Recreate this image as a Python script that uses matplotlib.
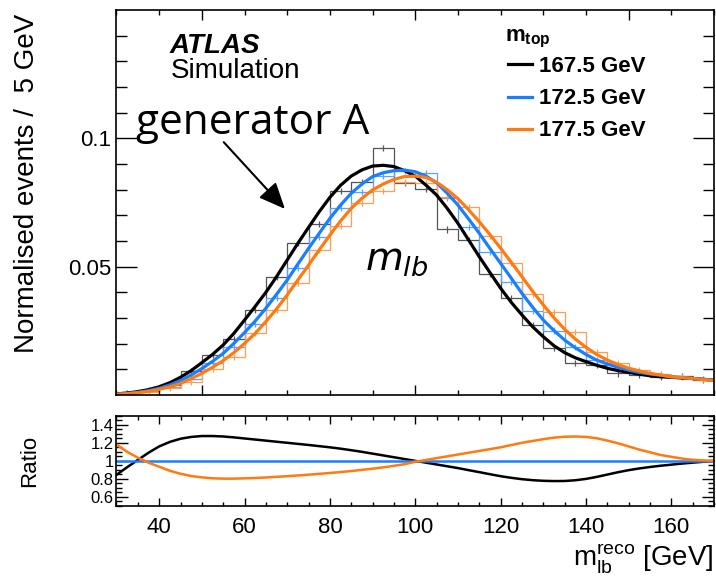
import numpy as np
import matplotlib
matplotlib.use('Agg')
import matplotlib.pyplot as plt
from matplotlib.ticker import MultipleLocator, FixedLocator

plt.rcParams['font.family'] = ['Liberation Sans', 'DejaVu Sans']
plt.rcParams['mathtext.fontset'] = 'custom'
plt.rcParams['mathtext.rm'] = 'Liberation Sans'
plt.rcParams['mathtext.bf'] = 'Liberation Sans:bold'
plt.rcParams['mathtext.it'] = 'DejaVu Sans:italic'

# bins of 5 GeV
edges = np.arange(30, 175, 5)
centers = edges[:-1] + 2.5

# histograms (normalised events / 5 GeV)
hist_167 = [0.0006, 0.0018, 0.0040, 0.0094, 0.0156, 0.0218, 0.0331, 0.0460, 0.0591, 0.0666,
            0.0796, 0.0829, 0.0962, 0.0826, 0.0801, 0.0645, 0.0604, 0.0470, 0.0379, 0.0273,
            0.0182, 0.0126, 0.0117, 0.0084, 0.0078, 0.0069, 0.0075, 0.0060]
hist_172 = [0.0005, 0.0015, 0.0032, 0.0064, 0.0123, 0.0186, 0.0277, 0.0377, 0.0494, 0.0614,
            0.0727, 0.0790, 0.0855, 0.0872, 0.0864, 0.0766, 0.0653, 0.0558, 0.0442, 0.0329,
            0.0251, 0.0186, 0.0136, 0.0106, 0.0091, 0.0078, 0.0069, 0.0061]
hist_177 = [0.0004, 0.0012, 0.0026, 0.0052, 0.0100, 0.0149, 0.0240, 0.0331, 0.0435, 0.0565,
            0.0658, 0.0747, 0.0796, 0.0831, 0.0827, 0.0770, 0.0734, 0.0621, 0.0513, 0.0394,
            0.0325, 0.0247, 0.0169, 0.0123, 0.0097, 0.0082, 0.0071, 0.0061]
HIST_ERR = 0.0012

# fitted templates, read every 2.5 GeV
fit_x = np.arange(30, 172.5, 2.5)
fit_167 = [0.0004, 0.0008, 0.0013, 0.0021, 0.0032, 0.0048, 0.0069, 0.0095, 0.0126, 0.0158,
           0.0195, 0.0240, 0.0292, 0.0345, 0.0400, 0.0461, 0.0526, 0.0591, 0.0653, 0.0714,
           0.0770, 0.0817, 0.0853, 0.0877, 0.0892, 0.0895, 0.0890, 0.0874, 0.0853, 0.0818,
           0.0779, 0.0727, 0.0669, 0.0604, 0.0539, 0.0477, 0.0416, 0.0361, 0.0312, 0.0266,
           0.0227, 0.0192, 0.0165, 0.0145, 0.0130, 0.0116, 0.0104, 0.0095, 0.0088, 0.0081,
           0.0075, 0.0071, 0.0069, 0.0066, 0.0064, 0.0061, 0.0058]
fit_172 = [0.0003, 0.0006, 0.0010, 0.0017, 0.0026, 0.0039, 0.0056, 0.0078, 0.0103, 0.0131,
           0.0162, 0.0201, 0.0243, 0.0288, 0.0338, 0.0392, 0.0448, 0.0510, 0.0571, 0.0630,
           0.0688, 0.0740, 0.0786, 0.0822, 0.0851, 0.0866, 0.0874, 0.0876, 0.0870, 0.0853,
           0.0827, 0.0786, 0.0740, 0.0686, 0.0630, 0.0571, 0.0513, 0.0455, 0.0396, 0.0342,
           0.0292, 0.0251, 0.0214, 0.0184, 0.0158, 0.0136, 0.0121, 0.0108, 0.0097, 0.0088,
           0.0082, 0.0077, 0.0071, 0.0068, 0.0064, 0.0061, 0.0058]
fit_177 = [0.0003, 0.0005, 0.0009, 0.0014, 0.0022, 0.0032, 0.0045, 0.0064, 0.0084, 0.0108,
           0.0134, 0.0165, 0.0201, 0.0240, 0.0286, 0.0335, 0.0390, 0.0448, 0.0506, 0.0565,
           0.0623, 0.0678, 0.0727, 0.0766, 0.0799, 0.0822, 0.0840, 0.0851, 0.0853, 0.0848,
           0.0829, 0.0800, 0.0765, 0.0722, 0.0675, 0.0625, 0.0572, 0.0517, 0.0461, 0.0404,
           0.0351, 0.0301, 0.0256, 0.0218, 0.0186, 0.0158, 0.0136, 0.0119, 0.0104, 0.0094,
           0.0084, 0.0078, 0.0071, 0.0068, 0.0064, 0.0060, 0.0056]

# ratio to the 172.5 GeV template, read every 2.5 GeV
ratio_167 = [0.845, 0.93, 1.01, 1.09, 1.16, 1.21, 1.245, 1.265, 1.275, 1.275,
             1.27, 1.26, 1.248, 1.236, 1.224, 1.212, 1.20, 1.188, 1.176, 1.163,
             1.15, 1.135, 1.118, 1.10, 1.08, 1.06, 1.04, 1.02, 1.0, 0.98,
             0.96, 0.94, 0.92, 0.897, 0.875, 0.852, 0.83, 0.812, 0.797, 0.786,
             0.779, 0.776, 0.777, 0.785, 0.800, 0.822, 0.848, 0.874, 0.897, 0.916,
             0.932, 0.946, 0.958, 0.970, 0.980, 0.990, 1.0]
ratio_172 = [1.0] * 57
ratio_177 = [1.18, 1.10, 1.035, 0.98, 0.935, 0.89, 0.857, 0.832, 0.817, 0.807,
             0.803, 0.803, 0.806, 0.81, 0.816, 0.823, 0.83, 0.838, 0.847, 0.856,
             0.866, 0.876, 0.887, 0.90, 0.913, 0.928, 0.945, 0.963, 0.99, 1.01,
             1.03, 1.05, 1.07, 1.09, 1.11, 1.13, 1.15, 1.175, 1.20, 1.22,
             1.24, 1.257, 1.267, 1.27, 1.265, 1.25, 1.225, 1.195, 1.16, 1.125,
             1.095, 1.065, 1.045, 1.025, 1.012, 1.005, 1.0]

labels = ['167.5 GeV', '172.5 GeV', '177.5 GeV']
colors = ['black', '#1a7fff', '#ff7a10']
hist_colors = ['#555555', '#5aa2ff', '#ff9d55']

fig = plt.figure(figsize=(7.16, 5.79), dpi=100)
ax = fig.add_axes([0.1627, 0.3178, 0.8345, 0.6649])
ax2 = fig.add_axes([0.1627, 0.1261, 0.8345, 0.1559])

for h, c in zip([hist_167, hist_172, hist_177], hist_colors):
    ax.stairs(h, edges, color=c, lw=0.9)
    ax.errorbar(centers, h, yerr=HIST_ERR, fmt='none', ecolor=c, elinewidth=0.9)

lines = []
for f, c, lab in zip([fit_167, fit_172, fit_177], colors, labels):
    l, = ax.plot(fit_x, f, color=c, lw=2.3, label=lab)
    lines.append(l)

ax.set_xlim(30, 170)
ax.set_ylim(0, 0.15)
ax.set_yticks([0.05, 0.1])
ax.set_yticklabels(['0.05', '0.1'])
ax.yaxis.set_minor_locator(FixedLocator(np.arange(0.01, 0.15, 0.01)))
ax.xaxis.set_major_locator(MultipleLocator(50))
ax.xaxis.set_minor_locator(MultipleLocator(10))
ax.tick_params(axis='both', which='both', direction='in', top=True, right=True,
               width=1.0, labelsize=16)
ax.tick_params(axis='y', which='major', length=15, pad=4)
ax.tick_params(axis='y', which='minor', length=8)
ax.tick_params(axis='x', which='major', length=7, labelbottom=False)
ax.tick_params(axis='x', which='minor', length=3.5)
ax.set_ylabel('Normalised events /  5 GeV', fontsize=20)
ax.yaxis.set_label_coords(-0.128, 0.55)

ax.text(0.089, 0.888, 'ATLAS', transform=ax.transAxes, fontsize=20,
        fontweight='bold', fontstyle='italic')
ax.text(0.091, 0.823, 'Simulation', transform=ax.transAxes, fontsize=20)

ax.text(34.6, 0.1015, 'generator A', family=['Open Sans', 'DejaVu Sans'], fontsize=30.5)
ax.annotate('', xy=(69.9, 0.0717), xytext=(54.7, 0.0993),
            arrowprops=dict(arrowstyle='-|>,head_length=0.8,head_width=0.35',
                            mutation_scale=20, lw=1.5, color='black'))
ax.text(88.2, 0.0487, r'$\mathit{m}_{\mathit{lb}}$', fontsize=28)

# legend title and entries
ax.text(0.650, 0.919, r'$\mathbf{m_{top}}$', transform=ax.transAxes, fontsize=16,
        va='baseline')
leg = ax.legend(handles=lines, labels=labels,
                loc='upper left', bbox_to_anchor=(0.64, 0.903), frameon=False,
                prop={'size': 16, 'weight': 'bold'},
                handlelength=1.1, handletextpad=0.3, labelspacing=0.5,
                borderaxespad=0.0)
for lh in leg.legend_handles:
    lh.set_linewidth(2.3)

for r, c in zip([ratio_167, ratio_172, ratio_177], colors):
    ax2.plot(fit_x, r, color=c, lw=1.8)

ax2.set_xlim(30, 170)
ax2.set_ylim(0.5, 1.5)
ax2.set_yticks([0.6, 0.8, 1.0, 1.2, 1.4])
ax2.set_yticklabels(['0.6', '0.8', '1', '1.2', '1.4'])
ax2.yaxis.set_minor_locator(MultipleLocator(0.05))
ax2.xaxis.set_major_locator(MultipleLocator(20))
ax2.xaxis.set_minor_locator(MultipleLocator(5))
ax2.tick_params(axis='both', which='both', direction='in', top=True, right=True, width=1.0)
ax2.tick_params(axis='y', which='major', length=8.5, labelsize=12, pad=2)
ax2.tick_params(axis='y', which='minor', length=4.3)
ax2.tick_params(axis='x', which='major', length=6, labelsize=16, pad=8)
ax2.tick_params(axis='x', which='minor', length=3)
ax2.set_ylabel('Ratio', fontsize=16)
ax2.yaxis.set_label_coords(-0.128, 0.5)
ax2.set_xlabel(r'$\mathrm{m}_{\mathrm{lb}}^{\mathrm{reco}}$ [GeV]', fontsize=20)
ax2.xaxis.label.set_ha('right')
ax2.xaxis.label.set_va('baseline')
ax2.xaxis.set_label_coords(1.0, -0.66)

for a in (ax, ax2):
    for s in a.spines.values():
        s.set_linewidth(1.2)

fig.savefig('out.png', dpi=100)
